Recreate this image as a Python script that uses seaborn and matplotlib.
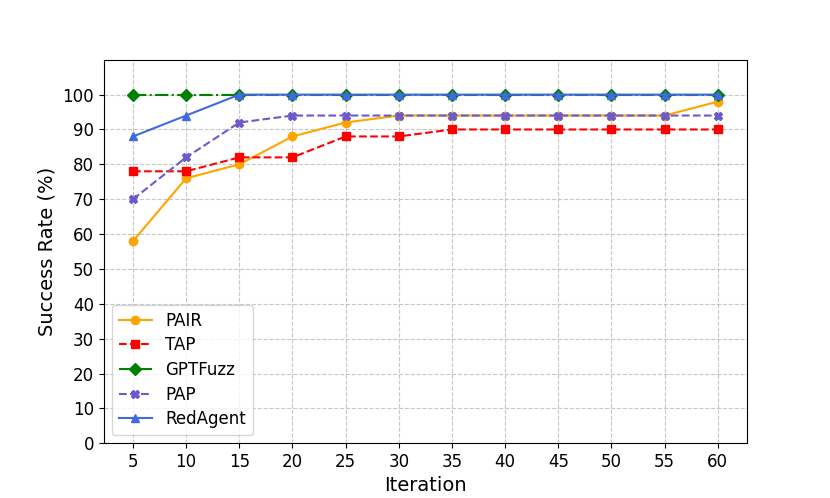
import matplotlib
matplotlib.use("Agg")
import matplotlib.pyplot as plt
import seaborn as sns
import pandas as pd

# data
iterations = [5, 10, 15, 20, 25, 30, 35, 40, 45, 50, 55, 60]
pair = [58, 76, 80, 88, 92, 94, 94, 94, 94, 94, 94, 98]
tap = [78, 78, 82, 82, 88, 88, 90, 90, 90, 90, 90, 90]
gptfuzz = [100, 100, 100, 100, 100, 100, 100, 100, 100, 100, 100, 100]
pap = [70, 82, 92, 94, 94, 94, 94, 94, 94, 94, 94, 94]
redagent = [88, 94, 100, 100, 100, 100, 100, 100, 100, 100, 100, 100]

series = [
    ("PAIR", pair, "orange", "-", "o"),
    ("TAP", tap, "red", "--", "s"),
    ("GPTFuzz", gptfuzz, "green", "-.", "D"),
    ("PAP", pap, "slateblue", "--", "X"),
    ("RedAgent", redagent, "royalblue", "-", "^"),
]

fig, ax = plt.subplots(figsize=(8.3, 4.98), dpi=100)

for name, vals, color, ls, mk in series:
    df = pd.DataFrame({"Iteration": iterations, "rate": vals})
    sns.lineplot(data=df, x="Iteration", y="rate", ax=ax, color=color,
                 linestyle=ls, marker=mk, markersize=6, markeredgecolor=color,
                 markeredgewidth=1, linewidth=1.5, label=name)

ax.set_xticks(iterations)
ax.set_yticks(range(0, 101, 10))
ax.set_ylim(0, 110)
ax.tick_params(labelsize=12)
ax.set_xlabel("Iteration", fontsize=14)
ax.set_ylabel("Success Rate (%)", fontsize=14)
ax.grid(True, linestyle="--", alpha=0.7)
ax.legend(loc="lower left", fontsize=12, labelspacing=0.4)

fig.savefig("out.png", dpi=100)
